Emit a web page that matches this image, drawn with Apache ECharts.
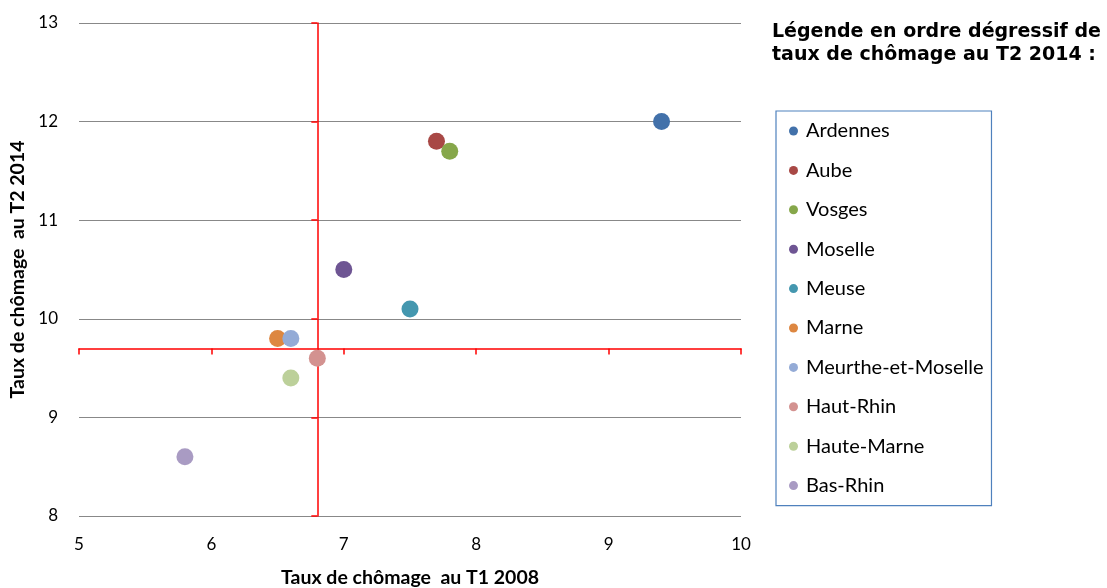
<!DOCTYPE html>
<html>
<head>
<meta charset="utf-8">
<script src="https://cdn.jsdelivr.net/npm/echarts@6/dist/echarts.min.js"></script>
<style>
html,body{margin:0;padding:0;background:#fff;}
#chart{width:1107px;height:588px;}
</style>
</head>
<body>
<div id="chart"></div>
<script>
// Data
const departements = ['Ardennes','Aube','Vosges','Moselle','Meuse','Marne','Meurthe-et-Moselle','Haut-Rhin','Haute-Marne','Bas-Rhin'];
const tauxT1_2008 = [9.4, 7.7, 7.8, 7.0, 7.5, 6.5, 6.6, 6.8, 6.6, 5.8];
const tauxT2_2014 = [12.0, 11.8, 11.7, 10.5, 10.1, 9.8, 9.8, 9.6, 9.4, 8.6];
const xTicks = [5, 6, 7, 8, 9, 10];
const yTicks = [8, 9, 10, 11, 12, 13];
const refX = 6.8;   // vertical red axis crosses at
const refY = 9.7;   // horizontal red axis crosses at

const colors = ['#4271AA','#A84845','#86A74A','#6E5593','#4497AF','#DD8741','#94ABD6','#D39290','#BCD09A','#A99BC3'];

const grid = {left: 79, right: 366, top: 23, bottom: 72, containLabel: false, outerBoundsMode: 'none'};
const W = 1107, H = 588;
const gw = W - grid.left - grid.right;
const gh = H - grid.top - grid.bottom;
const xMin = xTicks[0], xMax = xTicks[xTicks.length-1];
const yMin = yTicks[0], yMax = yTicks[yTicks.length-1];
const offX = -((refY - yMin) / (yMax - yMin)) * gh;
const offY = -((refX - xMin) / (xMax - xMin)) * gw;

const chart = echarts.init(document.getElementById('chart'));
const labelFont = 'Lato, "Open Sans", sans-serif';
const red = '#FF0000';

const series = departements.map((n, i) => ({
  name: n,
  type: 'scatter',
  xAxisIndex: 0,
  yAxisIndex: 0,
  symbolSize: 17,
  itemStyle: {color: colors[i], opacity: 1},
  data: [[tauxT1_2008[i], tauxT2_2014[i]]],
  z: 5
}));

chart.setOption({
  animation: false,
  backgroundColor: '#fff',
  title: {
    text: 'Légende en ordre dégressif de\ntaux de chômage au T2 2014 :',
    left: 772, top: 21, padding: 0,
    textStyle: {fontFamily: '"DejaVu Sans", sans-serif', fontWeight: 'bold', fontSize: 19, lineHeight: 23, color: '#000'}
  },
  legend: {
    orient: 'vertical',
    left: 776, top: 111,
    padding: [10, 8, 10, 13],
    itemGap: 19.4,
    itemWidth: 9, itemHeight: 9,
    icon: 'circle',
    borderColor: '#4F81BD', borderWidth: 1.2,
    textStyle: {fontFamily: labelFont, fontSize: 20, lineHeight: 20, color: '#000', padding: [0, 0, 0, 3]},
    data: departements
  },
  grid: grid,
  xAxis: [{
    type: 'value', min: xMin, max: xMax, interval: 1,
    name: 'Taux de chômage  au T1 2008',
    nameLocation: 'middle', nameGap: 52,
    nameTextStyle: {fontFamily: labelFont, fontWeight: 'bold', fontSize: 19.5, color: '#000'},
    axisLine: {show: false}, axisTick: {show: false}, splitLine: {show: false},
    axisLabel: {fontFamily: labelFont, fontSize: 17, color: '#000', margin: 20}
  }, {
    type: 'value', min: xMin, max: xMax, interval: 1,
    position: 'bottom', offset: offX,
    axisLine: {show: true, lineStyle: {color: red, width: 1.5}},
    axisTick: {show: true, length: 6, lineStyle: {color: red, width: 1.5}},
    axisLabel: {show: false}, splitLine: {show: false}
  }],
  yAxis: [{
    type: 'value', min: yMin, max: yMax, interval: 1,
    name: 'Taux de chômage  au T2 2014',
    nameLocation: 'middle', nameGap: 51,
    nameTextStyle: {fontFamily: labelFont, fontWeight: 'bold', fontSize: 19.5, color: '#000'},
    axisLine: {show: false}, axisTick: {show: false},
    splitLine: {show: true, lineStyle: {color: '#888888', width: 1.2}},
    axisLabel: {fontFamily: labelFont, fontSize: 17, color: '#000', margin: 21}
  }, {
    type: 'value', min: yMin, max: yMax, interval: 1,
    position: 'left', offset: offY,
    axisLine: {show: true, lineStyle: {color: red, width: 1.5}},
    axisTick: {show: true, length: 6, lineStyle: {color: red, width: 1.5}},
    axisLabel: {show: false}, splitLine: {show: false}
  }],
  series: series
});
</script>
</body>
</html>
